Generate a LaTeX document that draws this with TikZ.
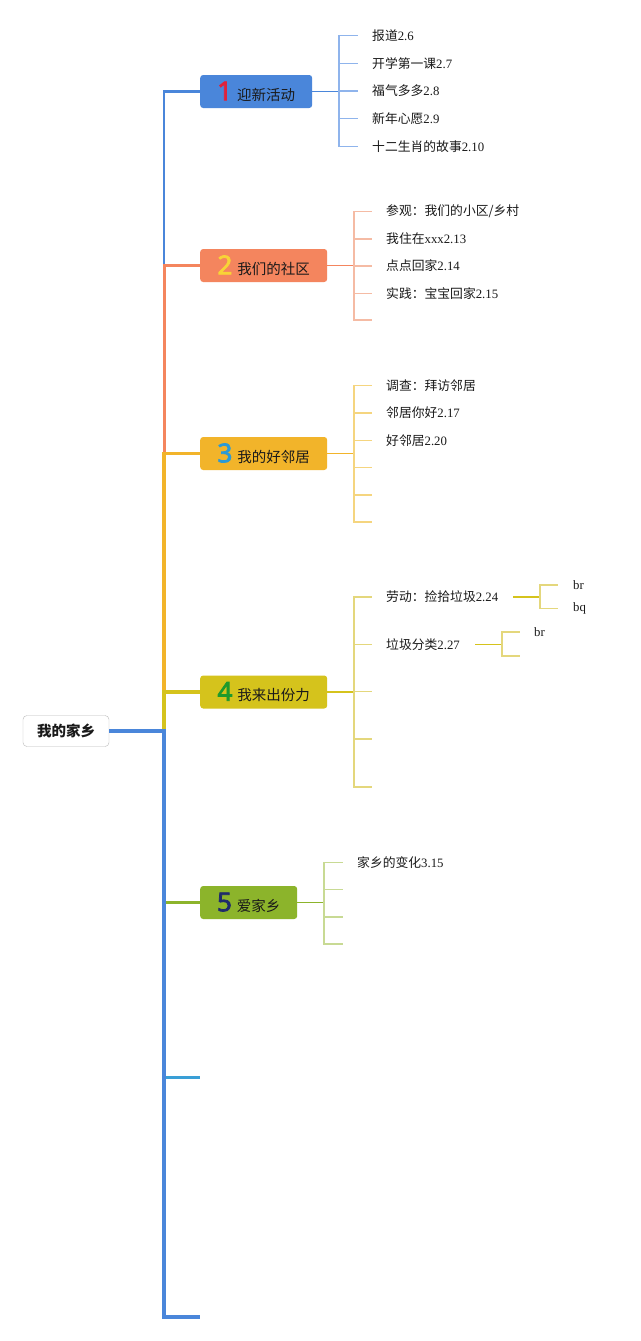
\documentclass[tikz,border=0pt]{standalone}
\usepackage{fontspec}
\setmainfont{Liberation Serif}
\newfontfamily\cjk{Noto Sans CJK SC}
\newfontfamily\numfont{Noto Sans}[FakeBold=3]
\definecolor{cb}{HTML}{4A86DA}
\definecolor{cbs}{HTML}{8FB4EC}
\definecolor{co}{HTML}{F4855E}
\definecolor{cos}{HTML}{F5BBA4}
\definecolor{cg}{HTML}{F2B42A}
\definecolor{cgs}{HTML}{F5D57F}
\definecolor{cy}{HTML}{D5C31C}
\definecolor{cys}{HTML}{E4D77C}
\definecolor{cgr}{HTML}{8CB42B}
\definecolor{cgrs}{HTML}{C8DA94}
\definecolor{clb}{HTML}{3A9FD6}
\definecolor{nA}{HTML}{E0213A}
\definecolor{nB}{HTML}{F8D337}
\definecolor{nC}{HTML}{2C9AD6}
\definecolor{nD}{HTML}{1E9A2C}
\definecolor{nE}{HTML}{1F2B6B}
\definecolor{txt}{HTML}{1A1A1A}
\newcommand\tnum[2]{{\numfont\fontsize{26}{26}\selectfont\color{#1}#2}\hspace{5pt}}
\tikzset{
  topic/.style={rounded corners=3pt, minimum height=33pt, inner sep=0pt, anchor=west,
    text=txt, font=\cjk\fontsize{14.5}{16}\selectfont},
  sub/.style={inner sep=0pt, anchor=west, text=txt, font=\fontsize{12.8}{14}\selectfont},
  tick/.style={line width=1.2pt},
  tickt/.style={line width=1.2pt, shorten >=14pt},
  link/.style={line width=1.8pt}
}
\begin{document}
\begin{tikzpicture}[x=1pt,y=-1pt]
\useasboundingbox (0,0) rectangle (640,1341);
\fill[white] (0,0) rectangle (640,1341);

% root and topics
\node[draw=gray!55, fill=white, rounded corners=4pt, minimum width=86pt, minimum height=31pt,
  inner sep=0pt, text=txt, font=\cjk\bfseries\fontsize{14.5}{16}\selectfont] (root) at (66,731) {我的家乡};
\coordinate (tr) at (164,731);

\node[topic, fill=cb, minimum width=112pt] (b1) at (200,91.5) {\tnum{nA}{1}迎新活动};
\node[topic, fill=co, minimum width=127pt] (b2) at (200,265.5) {\tnum{nB}{2}我们的社区};
\node[topic, fill=cg, minimum width=127pt] (b3) at (200,453.5) {\tnum{nC}{3}我的好邻居};
\node[topic, fill=cy, minimum width=127pt] (b4) at (200,692) {\tnum{nD}{4}我来出份力};
\node[topic, fill=cgr, minimum width=97pt] (b5) at (200,902.5) {\tnum{nE}{5}爱家乡};
\coordinate (b6) at (200,1077);
\coordinate (b7) at (200,1317);

\draw[cb, line width=2.5pt] (root.east) -- (tr) |- (b1.west);
\draw[co, line width=3pt] (root.east) -- (tr) |- (b2.west);
\draw[cg, line width=3.5pt] (root.east) -- (tr) |- (b3.west);
\draw[cy, line width=4pt] (root.east) -- (tr) |- (b4.west);
\draw[cgr, line width=3.5pt] (root.east) -- (tr) |- (b5.west);
\draw[clb, line width=3pt] (root.east) -- (tr) |- (b6);
\draw[cb, line width=4pt] (root.east) -- (tr) |- (b7);

% branch 1
\coordinate (v1) at (339,91.5);
\draw[cb, link] (b1.east) -- (v1);
\node[sub] (s11) at (372,35.5) {{\cjk 报道}2.6};
\node[sub] (s12) at (372,63.25) {{\cjk 开学第一课}2.7};
\node[sub] (s13) at (372,91) {{\cjk 福气多多}2.8};
\node[sub] (s14) at (372,118.75) {{\cjk 新年心愿}2.9};
\node[sub] (s15) at (372,146.5) {{\cjk 十二生肖的故事}2.10};
\foreach \s in {s11,s12,s13,s14,s15} \draw[cbs, tickt] (v1) |- (\s.west);

% branch 2
\coordinate (v2) at (354,265.5);
\draw[co, link] (b2.east) -- (v2);
\node[sub] (s21) at (386,211.5) {{\cjk 参观：我们的小区/乡村}};
\node[sub] (s22) at (386,239) {{\cjk 我住在}xxx2.13};
\node[sub] (s23) at (386,266) {{\cjk 点点回家}2.14};
\node[sub] (s24) at (386,293.5) {{\cjk 实践：宝宝回家}2.15};
\coordinate (e25) at (372,320);
\foreach \s in {s21,s22,s23,s24} \draw[cos, tickt] (v2) |- (\s.west);
\draw[cos, tick] (v2) |- (e25);

% branch 3
\coordinate (v3) at (354,453.5);
\draw[cg, link] (b3.east) -- (v3);
\node[sub] (s31) at (386,385.5) {{\cjk 调查：拜访邻居}};
\node[sub] (s32) at (386,413) {{\cjk 邻居你好}2.17};
\node[sub] (s33) at (386,440.5) {{\cjk 好邻居}2.20};
\coordinate (e34) at (372,467.5);
\coordinate (e35) at (372,495);
\coordinate (e36) at (372,522);
\foreach \s in {s31,s32,s33} \draw[cgs, tickt] (v3) |- (\s.west);
\foreach \e in {e34,e35,e36} \draw[cgs, tick] (v3) |- (\e);

% branch 4
\coordinate (v4) at (354,692);
\draw[cy, link] (b4.east) -- (v4);
\node[sub] (s41) at (386,597) {{\cjk 劳动：捡拾垃圾}2.24};
\node[sub] (s42) at (386,644.5) {{\cjk 垃圾分类}2.27};
\coordinate (e43) at (372,691.5);
\coordinate (e44) at (372,739);
\coordinate (e45) at (372,787);
\foreach \s in {s41,s42} \draw[cys, tickt] (v4) |- (\s.west);
\foreach \e in {e43,e44,e45} \draw[cys, tick] (v4) |- (\e);

% sub-sub of 4
\coordinate (f1) at (540,597);
\draw[cy, line width=1.5pt, shorten <=15pt] (s41.east) -- (f1);
\node[sub] (t11) at (573,585) {br};
\node[sub] (t12) at (573,608.5) {bq};
\draw[cys, tick, shorten >=15pt] (f1) |- (t11.west);
\draw[cys, tick, shorten >=15pt] (f1) |- (t12.west);
\coordinate (f2) at (502,644.5);
\draw[cy, line width=1.5pt, shorten <=15pt] (s42.east) -- (f2);
\node[sub] (t21) at (534,632) {br};
\coordinate (e22) at (520,656);
\draw[cys, tick, shorten >=14pt] (f2) |- (t21.west);
\draw[cys, tick] (f2) |- (e22);

% branch 5
\coordinate (v5) at (324,902.5);
\draw[cgr, link] (b5.east) -- (v5);
\node[sub] (s51) at (357,862.5) {{\cjk 家乡的变化}3.15};
\coordinate (e52) at (343,889.5);
\coordinate (e53) at (343,917);
\coordinate (e54) at (343,944);
\draw[cgrs, tickt] (v5) |- (s51.west);
\foreach \e in {e52,e53,e54} \draw[cgrs, tick] (v5) |- (\e);
\end{tikzpicture}
\end{document}
